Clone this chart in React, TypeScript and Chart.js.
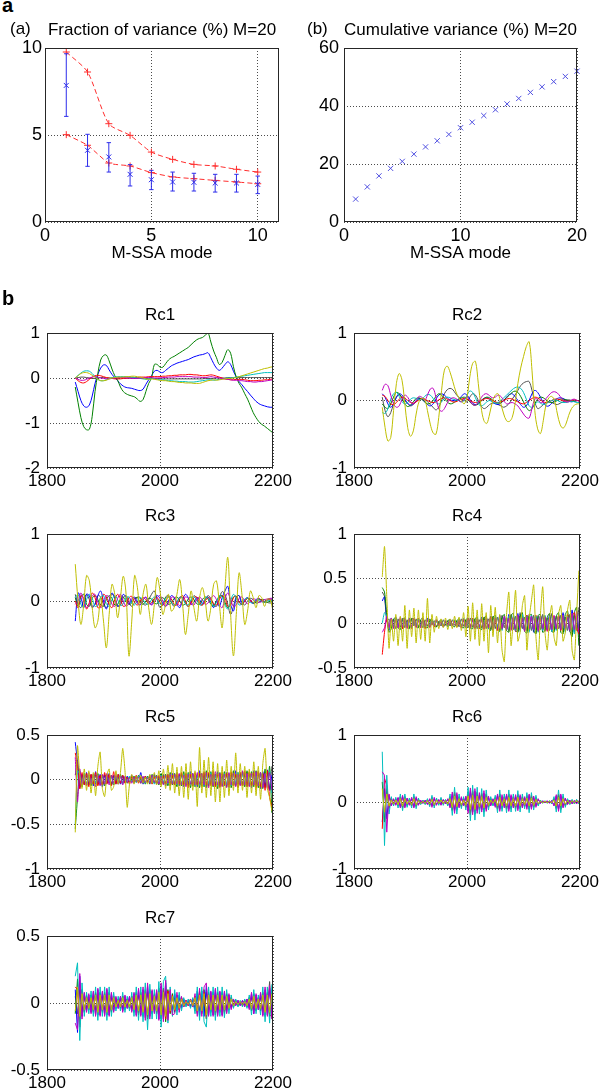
import React, { useEffect, useRef } from "react";
import { Chart, registerables } from "chart.js";

Chart.register(...registerables);

const FONT = "Arial, 'Liberation Sans', Helvetica, sans-serif";

// ---------- Panel (a): fraction of variance ----------
const fracModes = [1, 2, 3, 4, 5, 6, 7, 8, 9, 10];
const fracUpper = [9.77, 8.62, 5.65, 4.98, 4.02, 3.6, 3.31, 3.22, 3.03, 2.87];
const fracLower = [5.02, 4.41, 3.39, 3.22, 2.84, 2.59, 2.49, 2.39, 2.3, 2.2];
const fracMean = [7.85, 4.12, 3.74, 2.74, 2.43, 2.3, 2.28, 2.24, 2.24, 2.16];
const fracLow = [6.07, 3.2, 2.87, 2.07, 1.86, 1.78, 1.78, 1.72, 1.72, 1.63];
const fracHigh = [9.67, 5.04, 4.56, 3.3, 2.97, 2.87, 2.8, 2.74, 2.74, 2.64];

// ---------- Panel (b): cumulative variance ----------
const cumModes = [1, 2, 3, 4, 5, 6, 7, 8, 9, 10, 11, 12, 13, 14, 15, 16, 17, 18, 19, 20];
const cumVar = [7.9, 12.1, 15.9, 18.5, 20.9, 23.4, 25.9, 28.0, 30.2, 32.5, 34.4, 36.7, 38.7, 40.7, 42.6, 44.7, 46.6, 48.4, 50.2, 52.0];

// ---------- Tick labels ----------
const aXTicks = [0, 5, 10];
const aYTicks = [0, 5, 10];
const bXTicks = [0, 10, 20];
const bYTicks = [0, 20, 40, 60];
const rcXTicks = [1800, 2000, 2200];
const rc1YTicks = [-2, -1, 0, 1];
const rc2YTicks = [-1, 0, 1];
const rc3YTicks = [-1, 0, 1];
const rc4YTicks = [-0.5, 0, 0.5, 1];
const rc5YTicks = [-1, -0.5, 0, 0.5];
const rc6YTicks = [-1, 0, 1];
const rc7YTicks = [-0.5, 0, 0.5];

// years (categories)
function yearRange(start: number, step: number, n: number) {
  const out: number[] = [];
  for (let i = 0; i < n; i++) out.push(start + step * i);
  return out;
}
const years5 = yearRange(1850, 5, 71);
const years4 = yearRange(1850, 4, 88);

// ---------- Rc1 ----------
const rc1Blue = [
  -0.09, -0.3, -0.5, -0.62, -0.65, -0.6, -0.4, -0.12, 0.08, 0.22,
  0.29, 0.28, 0.18, 0.08, 0.01, -0.06, -0.13, -0.18, -0.21, -0.22,
  -0.23, -0.25, -0.27, -0.28, -0.25, -0.14, -0.04, 0.05, 0.15, 0.17,
  0.13, 0.12, 0.17, 0.22, 0.27, 0.3, 0.33, 0.35, 0.37, 0.39,
  0.41, 0.44, 0.47, 0.49, 0.51, 0.52, 0.54, 0.56, 0.45, 0.32,
  0.22, 0.17, 0.22, 0.3, 0.36, 0.3, 0.15, 0.02, -0.08, -0.15,
  -0.23, -0.3, -0.38, -0.45, -0.52, -0.57, -0.6, -0.62, -0.64, -0.65,
  -0.65,
];
const rc1Green = [
  -0.2, -0.55, -0.88, -1.08, -1.15, -1.14, -0.85, -0.3, 0.1, 0.4,
  0.5, 0.51, 0.38, 0.2, 0.05, -0.05, -0.2, -0.3, -0.35, -0.38,
  -0.4, -0.42, -0.47, -0.52, -0.48, -0.3, -0.12, 0.0, 0.3, 0.3,
  0.24, 0.24, 0.32, 0.4, 0.45, 0.48, 0.52, 0.56, 0.6, 0.64,
  0.68, 0.74, 0.8, 0.85, 0.88, 0.9, 0.95, 1.0, 0.8, 0.6,
  0.45, 0.3, 0.35, 0.5, 0.63, 0.55, 0.25, 0.02, -0.12, -0.22,
  -0.35, -0.47, -0.62, -0.77, -0.88, -0.97, -1.03, -1.07, -1.12, -1.17,
  -1.22,
];
const rc1Red = [
  0.0, -0.06, -0.1, -0.11, -0.08, -0.03, 0.02, 0.05, 0.06, 0.05,
  0.03, 0.01, 0.0, -0.01, -0.02, -0.02, -0.02, -0.01, -0.01, 0.0,
  0.0, 0.01, 0.01, 0.02, 0.02, 0.02, 0.03, 0.03, 0.03, 0.03,
  0.03, 0.04, 0.04, 0.05, 0.05, 0.06, 0.06, 0.07, 0.07, 0.07,
  0.08, 0.08, 0.07, 0.07, 0.06, 0.05, 0.05, 0.06, 0.07, 0.06,
  0.04, 0.02, 0.0, -0.02, -0.03, -0.04, -0.04, -0.03, -0.03, -0.03,
  -0.04, -0.05, -0.06, -0.06, -0.06, -0.05, -0.05, -0.04, -0.04, -0.03,
  -0.02,
];
const rc1Cyan = [
  0.0, 0.06, 0.11, 0.15, 0.16, 0.15, 0.1, 0.03, -0.03, -0.06,
  -0.06, -0.04, -0.01, 0.01, 0.02, 0.03, 0.03, 0.03, 0.03, 0.02,
  0.02, 0.01, 0.0, -0.01, -0.02, -0.03, -0.02, -0.01, -0.02, -0.03,
  -0.04, -0.04, -0.05, -0.06, -0.06, -0.07, -0.07, -0.08, -0.08, -0.08,
  -0.09, -0.09, -0.09, -0.08, -0.07, -0.06, -0.05, -0.04, -0.04, -0.05,
  -0.04, -0.03, -0.02, -0.01, 0.0, 0.0, 0.01, 0.02, 0.03, 0.04,
  0.05, 0.06, 0.07, 0.08, 0.09, 0.1, 0.11, 0.12, 0.12, 0.12,
  0.12,
];
const rc1Magenta = [
  0.0, -0.03, -0.05, -0.05, -0.03, 0.0, 0.02, 0.03, 0.02, 0.0,
  -0.01, -0.02, -0.02, -0.01, 0.0, 0.01, 0.01, 0.01, 0.0, 0.0,
  -0.01, -0.01, -0.01, 0.0, 0.0, 0.01, 0.01, 0.01, 0.0, 0.0,
  0.0, 0.01, 0.01, 0.02, 0.02, 0.02, 0.03, 0.03, 0.03, 0.03,
  0.03, 0.03, 0.02, 0.02, 0.02, 0.01, 0.01, 0.02, 0.03, 0.02,
  0.01, 0.0, -0.01, -0.02, -0.03, -0.04, -0.05, -0.05, -0.06, -0.06,
  -0.07, -0.08, -0.08, -0.09, -0.09, -0.08, -0.08, -0.07, -0.06, -0.05,
  -0.04,
];
const rc1Yellow = [
  0.0, 0.05, 0.1, 0.12, 0.12, 0.1, 0.06, 0.02, -0.03, -0.06,
  -0.06, -0.05, -0.02, 0.0, 0.01, 0.02, 0.02, 0.02, 0.03, 0.03,
  0.04, 0.04, 0.03, 0.02, 0.0, -0.02, -0.03, -0.02, -0.03, -0.04,
  -0.05, -0.06, -0.06, -0.07, -0.08, -0.08, -0.09, -0.1, -0.1, -0.11,
  -0.11, -0.11, -0.12, -0.12, -0.12, -0.1, -0.08, -0.06, -0.05, -0.04,
  -0.05, -0.04, -0.03, -0.02, -0.01, -0.01, 0.0, 0.01, 0.03, 0.05,
  0.07, 0.09, 0.11, 0.13, 0.15, 0.17, 0.19, 0.21, 0.22, 0.24,
  0.25,
];
const rc1Black = [
  0.0, 0.01, 0.02, 0.02, 0.01, 0.0, -0.01, -0.01, 0.0, 0.01,
  0.01, 0.0, 0.0, -0.01, -0.01, -0.01, 0.0, 0.0, 0.0, 0.0,
  0.0, -0.01, -0.01, -0.01, -0.01, -0.01, -0.01, -0.01, -0.01, -0.01,
  -0.01, -0.02, -0.02, -0.02, -0.02, -0.02, -0.02, -0.02, -0.02, -0.02,
  -0.02, -0.02, -0.02, -0.02, -0.02, -0.02, -0.01, -0.01, -0.01, -0.01,
  0.0, 0.0, 0.0, 0.0, 0.01, 0.01, 0.01, 0.01, 0.01, 0.01,
  0.01, 0.01, 0.01, 0.01, 0.01, 0.01, 0.01, 0.01, 0.01, 0.01,
  0.01,
];

// ---------- Rc2 ----------
const rc2Blue = [
  0.1, 0.05, -0.05, -0.1, -0.05, 0.05, 0.1, 0.08, 0.02, -0.04,
  -0.07, -0.05, 0.0, 0.03, 0.02, -0.02, -0.06, -0.08, -0.05, 0.02,
  0.08, 0.1, 0.08, 0.04, 0.01, 0.0, 0.0, 0.02, 0.06, 0.1,
  0.08, 0.02, -0.04, -0.06, -0.04, 0.0, 0.03, 0.04, 0.02, -0.02,
  -0.05, -0.06, -0.04, 0.0, 0.05, 0.09, 0.1, 0.06, 0.0, -0.06,
  -0.1, -0.08, 0.0, 0.1, 0.15, 0.12, 0.05, -0.03, -0.08, -0.08,
  -0.04, 0.0, 0.03, 0.04, 0.03, 0.01, -0.01, -0.02, -0.01, 0.0,
  0.0,
];
const rc2Green = [
  -0.05, -0.1, -0.12, -0.05, 0.05, 0.12, 0.1, 0.03, -0.05, -0.09,
  -0.07, -0.02, 0.03, 0.04, 0.02, -0.02, -0.05, -0.04, 0.0, 0.06,
  0.1, 0.08, 0.03, -0.02, -0.05, -0.04, -0.01, 0.02, 0.04, 0.05,
  0.03, -0.02, -0.06, -0.07, -0.05, -0.01, 0.03, 0.05, 0.04, 0.01,
  -0.02, -0.04, -0.03, 0.0, 0.04, 0.08, 0.12, 0.14, 0.12, 0.06,
  -0.02, -0.1, -0.15, -0.12, -0.05, 0.02, 0.05, 0.04, 0.01, -0.02,
  -0.03, -0.02, 0.0, 0.02, 0.02, 0.01, 0.0, -0.01, -0.01, 0.0,
  0.0,
];
const rc2Red = [
  0.08, 0.06, 0.0, -0.05, -0.06, -0.03, 0.02, 0.05, 0.04, 0.0,
  -0.03, -0.04, -0.02, 0.01, 0.03, 0.02, 0.0, -0.02, -0.03, -0.02,
  0.01, 0.03, 0.04, 0.02, 0.0, -0.02, -0.02, 0.0, 0.02, 0.03,
  0.02, 0.0, -0.02, -0.03, -0.02, 0.0, 0.02, 0.03, 0.02, 0.0,
  -0.02, -0.03, -0.02, 0.0, 0.02, 0.03, 0.02, 0.0, -0.02, -0.04,
  -0.05, -0.03, 0.0, 0.03, 0.05, 0.04, 0.01, -0.02, -0.03, -0.02,
  0.0, 0.02, 0.02, 0.01, 0.0, -0.01, -0.01, 0.0, 0.01, 0.0,
  -0.01,
];
const rc2Cyan = [
  -0.18, -0.19, -0.12, 0.02, 0.1, 0.12, 0.06, -0.02, -0.05, -0.03,
  0.02, 0.04, 0.03, 0.01, 0.02, 0.06, 0.09, 0.08, 0.03, -0.03,
  -0.05, -0.02, 0.03, 0.05, 0.04, 0.02, 0.01, 0.0, -0.02, 0.0,
  0.08, 0.14, 0.12, 0.04, -0.05, -0.08, -0.06, -0.02, 0.0, -0.02,
  -0.04, -0.03, 0.0, 0.04, 0.08, 0.12, 0.16, 0.19, 0.2, 0.18,
  0.12, 0.02, -0.08, -0.1, -0.06, -0.02, -0.04, -0.06, -0.05, -0.02,
  0.0, 0.01, 0.0, -0.02, -0.03, -0.03, -0.02, -0.01, -0.02, -0.03,
  -0.03,
];
const rc2Magenta = [
  0.15, 0.24, 0.22, 0.08, -0.05, -0.1, -0.08, 0.02, 0.08, 0.05,
  -0.02, -0.05, 0.0, 0.06, 0.05, 0.0, 0.08, 0.17, 0.18, 0.05,
  -0.12, -0.16, -0.12, -0.04, 0.02, 0.04, 0.03, 0.0, -0.02, 0.02,
  0.05, 0.0, -0.06, -0.07, -0.03, 0.04, 0.09, 0.1, 0.07, 0.04,
  0.05, 0.08, 0.06, 0.0, -0.05, -0.04, -0.03, -0.05, -0.08, -0.14,
  -0.2, -0.25, -0.26, -0.12, 0.02, 0.02, -0.03, -0.02, 0.03, 0.08,
  0.12, 0.13, 0.11, 0.06, 0.01, -0.02, -0.02, 0.01, 0.02, 0.0,
  -0.02,
];
const rc2Yellow = [
  -0.1, -0.4, -0.6, -0.55, -0.15, 0.25, 0.4, 0.3, -0.05, -0.4,
  -0.53, -0.45, -0.2, -0.02, 0.03, 0.02, -0.15, -0.35, -0.48, -0.5,
  -0.25, 0.15, 0.45, 0.51, 0.42, 0.28, 0.14, 0.05, 0.0, -0.05,
  0.05, 0.35, 0.55, 0.58, 0.25, -0.1, -0.3, -0.34, -0.2, -0.02,
  0.08, 0.1, -0.05, -0.2, -0.3, -0.31, -0.25, -0.05, 0.25, 0.48,
  0.65, 0.8, 0.87, 0.45, -0.15, -0.42, -0.49, -0.3, -0.05, 0.04,
  0.06, 0.0, -0.2, -0.36, -0.41, -0.35, -0.22, -0.12, -0.07, -0.05,
  -0.05,
];
const rc2Black = [
  0.05, -0.15, -0.24, -0.18, -0.05, 0.05, 0.08, 0.05, 0.0, -0.05,
  -0.08, -0.06, -0.02, 0.02, 0.03, 0.02, -0.02, -0.06, -0.1, -0.14,
  -0.1, 0.0, 0.1, 0.16, 0.18, 0.16, 0.1, 0.05, 0.02, 0.0,
  -0.02, 0.05, 0.1, 0.08, 0.0, -0.08, -0.12, -0.1, -0.06, -0.04,
  -0.04, -0.06, -0.08, -0.1, -0.08, -0.04, 0.02, 0.08, 0.15, 0.22,
  0.26, 0.28, 0.28, 0.15, -0.02, -0.12, -0.1, -0.06, -0.03, -0.02,
  -0.03, -0.05, -0.06, -0.04, -0.02, 0.0, 0.01, 0.0, -0.01, 0.0,
  0.0,
];

// ---------- Rc3 ----------
const rc3Blue = [
  -0.3, 0.12, 0.05, -0.1, 0.1, 0.08, -0.08, -0.05, 0.08, 0.15,
  0.0, -0.12, 0.02, 0.12, 0.05, -0.08, -0.02, 0.1, 0.05, -0.05,
  0.02, 0.06, -0.03, -0.06, 0.02, 0.05, -0.02, -0.05, 0.03, 0.08,
  0.04, -0.04, -0.08, 0.0, 0.08, 0.05, -0.05, -0.1, 0.02, 0.1,
  0.05, -0.05, -0.02, 0.05, 0.02, -0.04, 0.03, 0.06, -0.02, -0.1,
  0.0, -0.08, 0.05, 0.15, 0.22, -0.05, -0.15, 0.05, 0.08, -0.06,
  0.02, 0.05, 0.0, -0.04, 0.02, 0.04, 0.0, -0.02, 0.02, 0.03,
  0.02,
];
const rc3Green = [
  0.05, -0.08, 0.06, 0.1, -0.05, -0.08, 0.04, 0.08, 0.02, -0.06,
  -0.08, 0.02, 0.08, 0.04, -0.06, -0.05, 0.03, 0.06, 0.0, -0.05,
  -0.03, 0.04, 0.05, -0.02, -0.05, 0.0, 0.04, 0.03, -0.03, -0.04,
  0.02, 0.05, 0.0, -0.05, -0.03, 0.04, 0.06, 0.0, -0.06, -0.04,
  0.03, 0.06, 0.02, -0.04, -0.05, 0.02, 0.06, 0.03, -0.05, -0.07,
  0.0, 0.07, 0.08, -0.02, -0.1, -0.05, 0.06, 0.07, -0.02, -0.05,
  0.0, 0.04, 0.02, -0.03, -0.02, 0.02, 0.02, -0.01, -0.02, 0.0,
  -0.02,
];
const rc3Red = [
  0.0, -0.1, 0.08, 0.05, -0.12, -0.02, 0.12, 0.05, -0.1, -0.08,
  0.1, 0.06, -0.05, -0.1, 0.02, 0.1, 0.03, -0.08, -0.06, 0.05,
  0.07, -0.02, -0.06, 0.0, 0.05, 0.02, -0.04, -0.03, 0.04, 0.05,
  -0.02, -0.06, 0.0, 0.06, 0.03, -0.05, -0.06, 0.03, 0.08, 0.0,
  -0.08, -0.04, 0.05, 0.06, -0.02, -0.06, 0.0, 0.05, 0.03, -0.04,
  -0.06, 0.02, 0.08, 0.04, -0.08, -0.06, 0.05, 0.07, -0.02, -0.05,
  0.0, 0.04, 0.01, -0.03, 0.0, 0.03, 0.01, -0.02, 0.01, 0.02,
  0.0,
];
const rc3Cyan = [
  0.05, 0.1, -0.05, -0.1, 0.02, 0.1, 0.04, -0.08, -0.06, 0.06,
  0.08, -0.04, -0.08, 0.02, 0.08, 0.02, -0.07, -0.04, 0.05, 0.06,
  -0.03, -0.06, 0.01, 0.05, 0.02, -0.04, -0.05, 0.02, 0.06, 0.02,
  -0.05, -0.04, 0.04, 0.06, -0.01, -0.06, -0.02, 0.05, 0.04, -0.04,
  -0.06, 0.02, 0.06, 0.01, -0.05, -0.04, 0.04, 0.05, -0.03, -0.08,
  -0.02, 0.08, 0.06, -0.06, -0.12, 0.0, 0.1, 0.04, -0.06, -0.04,
  0.03, 0.04, -0.02, -0.03, 0.01, 0.02, -0.01, -0.02, 0.0, 0.01,
  0.0,
];
const rc3Magenta = [
  -0.05, 0.0, 0.12, 0.0, -0.1, -0.05, 0.08, 0.1, -0.02, -0.1,
  -0.05, 0.08, 0.06, -0.05, -0.08, 0.04, 0.1, 0.0, -0.08, -0.03,
  0.05, 0.04, -0.03, -0.05, 0.02, 0.06, 0.0, -0.06, -0.02, 0.05,
  0.08, 0.0, -0.08, -0.03, 0.05, 0.06, -0.02, -0.07, 0.0, 0.06,
  0.04, -0.04, -0.06, 0.02, 0.06, 0.01, -0.05, -0.03, 0.04, 0.08,
  0.02, -0.06, -0.1, 0.04, 0.12, 0.02, -0.08, -0.06, 0.04, 0.06,
  0.0, -0.04, -0.01, 0.03, 0.02, -0.02, -0.01, 0.02, 0.03, 0.04,
  0.04,
];
const rc3Yellow = [
  0.55, 0.0, -0.35, -0.05, 0.38, 0.3, -0.1, -0.4, -0.3, 0.05,
  -0.3, -0.7, -0.2, 0.25, 0.1, -0.25, 0.05, 0.37, 0.1, -0.82,
  -0.3, 0.38, 0.2, -0.2, 0.1, 0.25, -0.1, -0.35, -0.05, 0.35,
  0.15, -0.2, -0.05, 0.1, -0.15, -0.1, 0.1, 0.32, -0.05, -0.5,
  -0.2, 0.15, -0.1, -0.3, 0.05, 0.2, 0.0, -0.3, -0.1, 0.25,
  0.3, -0.05, -0.4, 0.2, 0.65, -0.2, -0.82, -0.2, 0.42, 0.1,
  -0.35, -0.15, 0.15, 0.05, -0.1, 0.08, 0.05, -0.08, 0.03, 0.02,
  -0.15,
];
const rc3Black = [
  0.1, -0.05, -0.1, 0.02, 0.1, 0.02, -0.1, -0.05, 0.08, 0.06,
  -0.05, -0.1, 0.0, 0.1, 0.04, -0.08, -0.06, 0.05, 0.08, -0.02,
  -0.08, -0.02, 0.06, 0.05, -0.04, -0.06, 0.02, 0.1, 0.15, 0.02,
  -0.1, -0.05, 0.06, 0.08, -0.02, -0.08, -0.02, 0.06, 0.05, -0.04,
  -0.08, 0.0, 0.08, 0.04, -0.05, -0.06, 0.02, 0.08, 0.04, -0.06,
  -0.08, 0.04, 0.14, 0.1, -0.05, -0.2, -0.08, 0.06, 0.08, -0.02,
  -0.06, 0.0, 0.04, 0.02, -0.03, -0.02, 0.02, 0.02, -0.02, -0.03,
  -0.02,
];

// ---------- Rc4 ----------
const rc4Blue = [
  0.25, 0.3, 0.05, -0.08, 0.06, -0.05, 0.07, -0.04, 0.05, -0.06, 0.04,
  -0.03, 0.06, -0.05, 0.03, -0.04, 0.05, -0.03, 0.04, -0.05, 0.06, -0.04,
  0.03, -0.03, 0.04, -0.02, 0.03, -0.04, 0.02, -0.03, 0.04, -0.02, 0.03,
  -0.04, 0.05, -0.03, 0.04, -0.05, 0.06, -0.04, 0.05, -0.06, 0.04, -0.05,
  0.07, -0.06, 0.05, -0.04, 0.08, -0.07, 0.06, -0.05, 0.09, -0.06, 0.07,
  -0.08, 0.1, -0.05, 0.06, -0.09, 0.11, -0.07, 0.05, -0.08, 0.09, -0.06,
  0.08, -0.1, 0.07, -0.05, 0.09, -0.08, 0.06, -0.07, 0.1, -0.09, 0.05,
  -0.06, 0.08, -0.07, 0.12, -0.05, 0.06, -0.09, 0.15, -0.1, 0.08, -0.12,
];
const rc4Green = [
  0.4, 0.35, 0.1, -0.1, -0.06, 0.05, 0.06, -0.05, -0.07, 0.04, 0.06,
  -0.04, -0.06, 0.05, 0.05, -0.03, -0.05, 0.04, 0.06, -0.04, -0.05, 0.03,
  0.04, -0.03, -0.04, 0.02, 0.03, -0.03, -0.02, 0.03, 0.04, -0.02, -0.04,
  0.03, 0.05, -0.04, -0.05, 0.04, 0.06, -0.05, -0.06, 0.05, 0.07, -0.05,
  -0.07, 0.06, 0.08, -0.06, -0.08, 0.07, 0.09, -0.07, -0.09, 0.06, 0.1,
  -0.08, -0.1, 0.09, 0.11, -0.08, -0.1, 0.07, 0.12, -0.09, -0.11, 0.08,
  0.1, -0.08, -0.12, 0.09, 0.1, -0.1, -0.08, 0.07, 0.11, -0.09, -0.1,
  0.08, 0.12, -0.1, -0.12, 0.1, 0.14, -0.08, -0.15, 0.12, 0.18, -0.25,
];
const rc4Red = [
  -0.35, -0.1, 0.05, -0.06, 0.05, -0.04, 0.06, -0.05, 0.04, -0.06, 0.05,
  -0.05, 0.04, -0.06, 0.05, -0.04, 0.06, -0.05, 0.04, -0.06, 0.05, -0.04,
  0.03, -0.04, 0.03, -0.02, 0.04, -0.03, 0.02, -0.04, 0.03, -0.02, 0.03,
  -0.04, 0.03, -0.05, 0.04, -0.03, 0.05, -0.04, 0.06, -0.05, 0.04, -0.06,
  0.05, -0.07, 0.06, -0.05, 0.07, -0.06, 0.05, -0.08, 0.06, -0.07, 0.05,
  -0.06, 0.08, -0.07, 0.06, -0.09, 0.07, -0.06, 0.08, -0.07, 0.09, -0.08,
  0.07, -0.06, 0.09, -0.08, 0.06, -0.07, 0.08, -0.09, 0.07, -0.06, 0.08,
  -0.07, 0.09, -0.08, 0.06, -0.09, 0.1, -0.07, 0.08, 0.12, -0.05, -0.12,
];
const rc4Cyan = [
  0.0, 0.12, 0.08, -0.06, 0.04, -0.04, 0.06, -0.05, 0.04, -0.03, 0.05,
  -0.04, 0.03, -0.05, 0.04, -0.03, 0.05, -0.04, 0.03, -0.04, 0.05, -0.03,
  0.04, -0.03, 0.02, -0.03, 0.04, -0.02, 0.03, -0.04, 0.02, -0.03, 0.04,
  -0.03, 0.05, -0.04, 0.06, -0.05, 0.04, -0.06, 0.05, -0.04, 0.06, -0.05,
  0.06, -0.05, 0.07, -0.06, 0.05, -0.07, 0.08, -0.05, 0.07, -0.08, 0.06,
  -0.07, 0.08, -0.06, 0.09, -0.08, 0.07, -0.09, 0.1, -0.07, 0.08, -0.1,
  0.09, -0.07, 0.08, -0.1, 0.07, -0.08, 0.09, -0.06, 0.08, -0.09, 0.07,
  -0.08, 0.07, -0.06, 0.09, -0.1, 0.08, -0.07, 0.1, -0.12, 0.09, -0.05,
];
const rc4Magenta = [
  -0.1, -0.05, 0.08, -0.05, 0.06, -0.06, 0.04, -0.05, 0.07, -0.04, 0.05,
  -0.06, 0.05, -0.04, 0.06, -0.05, 0.03, -0.05, 0.06, -0.03, 0.04, -0.05,
  0.02, -0.03, 0.04, -0.03, 0.02, -0.04, 0.03, -0.02, 0.04, -0.03, 0.02,
  -0.03, 0.04, -0.05, 0.05, -0.04, 0.06, -0.05, 0.04, -0.06, 0.05, -0.04,
  0.05, -0.06, 0.07, -0.05, 0.06, -0.08, 0.06, -0.07, 0.05, -0.06, 0.08,
  -0.07, 0.06, -0.08, 0.07, -0.06, 0.09, -0.07, 0.06, -0.09, 0.07, -0.06,
  0.08, -0.07, 0.06, -0.09, 0.08, -0.06, 0.07, -0.08, 0.06, -0.07, 0.09,
  -0.06, 0.08, -0.07, 0.09, -0.06, 0.07, -0.08, 0.11, -0.07, 0.14, -0.1,
];
const rc4Yellow = [
  0.52, 0.86, 0.3, -0.28, 0.05, -0.2, 0.1, -0.25, 0.08, -0.2, 0.2,
  -0.28, 0.15, -0.15, 0.17, -0.22, 0.15, -0.18, 0.12, -0.2, 0.28, -0.22,
  0.1, -0.1, 0.08, -0.06, 0.05, -0.05, 0.06, -0.07, 0.05, -0.06, 0.08,
  -0.05, 0.07, -0.08, 0.12, -0.15, 0.19, -0.2, 0.23, -0.18, 0.15, -0.25,
  0.22, -0.2, 0.12, -0.33, 0.2, -0.15, 0.18, -0.22, 0.1, -0.3, -0.43,
  0.1, 0.35, -0.25, 0.05, 0.37, -0.2, -0.1, 0.2, 0.31, -0.3, 0.05,
  0.25, 0.43, -0.15, -0.41, 0.1, 0.41, -0.1, -0.3, 0.05, 0.2, -0.15,
  -0.25, 0.1, 0.2, -0.2, -0.1, 0.15, 0.26, -0.3, -0.41, 0.1, 0.59,
];
const rc4Black = [
  0.35, 0.3, 0.02, 0.05, -0.05, 0.04, -0.06, 0.05, -0.04, 0.06, -0.05,
  0.04, -0.05, 0.06, -0.03, 0.05, -0.04, 0.03, -0.05, 0.04, -0.03, 0.05,
  -0.02, 0.03, -0.04, 0.02, -0.03, 0.04, -0.02, 0.03, -0.03, 0.04, -0.02,
  0.03, -0.04, 0.05, -0.03, 0.04, -0.05, 0.06, -0.04, 0.05, -0.06, 0.04,
  -0.05, 0.07, -0.06, 0.05, -0.07, 0.08, -0.06, 0.07, -0.08, 0.09, -0.05,
  0.06, -0.09, 0.1, -0.07, 0.08, -0.1, 0.12, -0.06, 0.07, -0.09, 0.1,
  -0.08, 0.09, -0.11, 0.08, -0.07, 0.1, -0.09, 0.06, -0.08, 0.11, -0.07,
  0.08, -0.06, 0.09, -0.1, 0.07, -0.08, 0.1, -0.12, 0.09, -0.08, 0.18,
];

// ---------- Rc5 ----------
const rc5Blue = [
  0.42, 0.2, -0.08, 0.06, -0.05, 0.08, -0.06, 0.05, -0.07, 0.09, -0.05,
  0.06, -0.08, 0.05, -0.04, 0.07, -0.06, 0.05, -0.04, 0.06, -0.05, 0.04,
  -0.03, 0.04, -0.03, 0.05, -0.04, 0.03, -0.02, 0.08, -0.05, 0.04, -0.03,
  0.05, -0.04, 0.06, -0.05, 0.04, -0.06, 0.05, -0.07, 0.06, -0.05, 0.07,
  -0.06, 0.08, -0.07, 0.06, -0.08, 0.07, -0.05, 0.09, -0.07, 0.06, -0.08,
  0.1, -0.06, 0.08, -0.09, 0.07, -0.06, 0.08, -0.07, 0.09, -0.08, 0.06,
  -0.07, 0.08, -0.09, 0.07, -0.06, 0.1, -0.08, 0.07, -0.06, 0.09, -0.07,
  0.08, -0.09, 0.1, -0.07, 0.08, -0.1, 0.09, -0.08, 0.11, -0.12, 0.05,
];
const rc5Green = [
  -0.55, -0.2, 0.1, -0.08, 0.07, -0.06, 0.05, -0.07, 0.06, -0.05, 0.07,
  -0.06, 0.05, -0.07, 0.06, -0.04, 0.05, -0.06, 0.04, -0.05, 0.06, -0.04,
  0.03, -0.04, 0.03, -0.02, 0.04, -0.03, 0.05, -0.04, 0.03, -0.05, 0.04,
  -0.05, 0.06, -0.04, 0.05, -0.06, 0.07, -0.05, 0.06, -0.07, 0.08, -0.06,
  0.07, -0.08, 0.06, -0.07, 0.09, -0.06, 0.08, -0.09, 0.07, -0.08, 0.06,
  -0.09, 0.07, -0.08, 0.1, -0.07, 0.09, -0.08, 0.06, -0.1, 0.08, -0.07,
  0.09, -0.08, 0.07, -0.09, 0.1, -0.07, 0.08, -0.06, 0.09, -0.08, 0.1,
  -0.07, 0.09, -0.08, 0.1, -0.09, 0.08, -0.1, 0.12, -0.08, 0.15, -0.37,
];
const rc5Red = [
  0.3, 0.15, -0.1, 0.08, -0.06, 0.07, -0.08, 0.06, -0.05, 0.08, -0.07,
  0.05, -0.06, 0.08, -0.05, 0.06, -0.07, 0.09, -0.05, 0.06, -0.04, 0.05,
  -0.04, 0.03, -0.05, 0.04, -0.03, 0.05, -0.04, 0.03, -0.02, 0.04, -0.03,
  0.04, -0.05, 0.03, -0.04, 0.05, -0.06, 0.04, -0.05, 0.06, -0.07, 0.05,
  -0.06, 0.07, -0.05, 0.08, -0.06, 0.07, -0.09, 0.06, -0.07, 0.08, -0.06,
  0.07, -0.08, 0.09, -0.06, 0.08, -0.07, 0.1, -0.08, 0.06, -0.09, 0.08,
  -0.06, 0.07, -0.08, 0.09, -0.07, 0.06, -0.09, 0.08, -0.07, 0.1, -0.08,
  0.09, -0.07, 0.08, -0.1, 0.09, -0.08, 0.07, -0.12, 0.1, -0.2, -0.3,
];
const rc5Cyan = [
  -0.5, 0.1, 0.06, -0.05, 0.07, -0.06, 0.04, -0.05, 0.06, -0.04, 0.05,
  -0.05, 0.04, -0.03, 0.05, -0.04, 0.03, -0.05, 0.04, -0.03, 0.04, -0.05,
  0.03, -0.02, 0.04, -0.03, 0.02, -0.03, 0.04, -0.02, 0.03, -0.04, 0.03,
  -0.03, 0.04, -0.05, 0.03, -0.04, 0.05, -0.03, 0.04, -0.05, 0.06, -0.04,
  0.05, -0.06, 0.04, -0.05, 0.06, -0.04, 0.07, -0.05, 0.06, -0.07, 0.05,
  -0.06, 0.05, -0.07, 0.06, -0.05, 0.08, -0.06, 0.05, -0.07, 0.06, -0.05,
  0.07, -0.06, 0.05, -0.07, 0.06, -0.05, 0.08, -0.06, 0.07, -0.05, 0.06,
  -0.07, 0.06, -0.05, 0.08, -0.06, 0.07, -0.08, 0.06, -0.09, 0.1, -0.15,
];
const rc5Magenta = [
  0.25, -0.25, 0.12, -0.06, 0.05, -0.07, 0.08, -0.05, 0.06, -0.08, 0.05,
  -0.07, 0.06, -0.05, 0.07, -0.06, 0.05, -0.04, 0.06, -0.05, 0.04, -0.06,
  0.04, -0.03, 0.02, -0.04, 0.03, -0.02, 0.03, -0.04, 0.04, -0.03, 0.02,
  -0.04, 0.05, -0.03, 0.04, -0.05, 0.04, -0.06, 0.05, -0.04, 0.06, -0.05,
  0.06, -0.05, 0.07, -0.06, 0.05, -0.08, 0.06, -0.05, 0.07, -0.06, 0.08,
  -0.05, 0.07, -0.06, 0.08, -0.09, 0.06, -0.07, 0.09, -0.06, 0.07, -0.08,
  0.06, -0.09, 0.08, -0.06, 0.07, -0.08, 0.06, -0.07, 0.1, -0.06, 0.07,
  -0.08, 0.07, -0.06, 0.09, -0.07, 0.08, -0.09, 0.07, -0.1, 0.08, -0.12,
];
const rc5Yellow = [
  -0.59, 0.38, 0.05, -0.1, 0.12, -0.12, 0.1, -0.15, 0.08, -0.18, 0.15,
  0.31, -0.1, -0.19, 0.05, 0.12, -0.12, -0.08, 0.1, -0.05, 0.08, 0.35,
  0.1, -0.31, -0.05, 0.06, -0.05, 0.04, -0.03, 0.05, -0.04, 0.03, -0.05,
  0.06, -0.04, 0.08, -0.06, 0.1, -0.08, 0.12, -0.1, 0.16, -0.12, 0.18,
  -0.15, 0.14, -0.18, 0.15, -0.2, 0.18, -0.22, 0.2, -0.12, 0.1, -0.3,
  0.36, -0.15, 0.22, -0.2, 0.25, -0.18, 0.2, -0.25, 0.18, -0.25, 0.15,
  -0.2, 0.22, -0.18, 0.15, -0.12, 0.3, -0.15, 0.18, -0.12, 0.15, -0.2,
  0.12, -0.15, 0.2, -0.18, 0.15, -0.22, 0.18, 0.35, -0.1, -0.2, -0.35,
];
const rc5Black = [
  0.05, 0.22, -0.1, 0.05, -0.06, 0.04, -0.05, 0.06, -0.04, 0.05, -0.06,
  0.04, -0.05, 0.06, -0.04, 0.05, -0.06, 0.04, -0.05, 0.03, -0.04, 0.05,
  -0.03, 0.02, -0.03, 0.03, -0.02, 0.04, -0.03, 0.02, -0.04, 0.03, -0.02,
  0.03, -0.04, 0.05, -0.04, 0.03, -0.05, 0.06, -0.04, 0.05, -0.06, 0.04,
  -0.05, 0.06, -0.04, 0.07, -0.05, 0.06, -0.07, 0.05, -0.06, 0.07, -0.05,
  0.06, -0.07, 0.05, -0.08, 0.06, -0.05, 0.07, -0.06, 0.08, -0.07, 0.06,
  -0.05, 0.07, -0.06, 0.08, -0.07, 0.05, -0.06, 0.08, -0.07, 0.06, -0.08,
  0.07, -0.06, 0.08, -0.07, 0.09, -0.08, 0.06, -0.09, 0.08, -0.1, 0.15,
];

// ---------- Rc6 ----------
const rc6Blue = [
  -0.3, 0.2, -0.25, 0.1, -0.05, 0.04, -0.04, 0.06, -0.07, 0.08, -0.07,
  0.05, -0.04, 0.05, -0.07, 0.06, -0.04, 0.02, -0.02, 0.02, -0.03, 0.04,
  -0.06, 0.05, -0.04, 0.03, -0.04, 0.03, -0.02, 0.04, -0.07, 0.12, -0.13,
  0.11, -0.07, 0.06, -0.05, 0.07, -0.13, 0.17, -0.15, 0.16, -0.13, 0.11,
  -0.12, 0.13, -0.11, 0.07, -0.05, 0.04, -0.06, 0.1, -0.11, 0.08, -0.07,
  0.1, -0.11, 0.09, -0.07, 0.08, -0.1, 0.09, -0.07, 0.06, -0.08, 0.1,
  -0.08, 0.07, -0.06, 0.04, -0.02, 0.01, -0.01, 0.01, -0.01, 0.02, -0.05,
  0.09, -0.11, 0.1, -0.07, 0.05, -0.03, 0.02, -0.02, 0.02, -0.02, 0.02,
];
const rc6Green = [
  0.3, -0.3, 0.2, -0.09, 0.05, -0.04, 0.04, -0.05, 0.07, -0.08, 0.07,
  -0.05, 0.03, -0.05, 0.07, -0.06, 0.04, -0.02, 0.02, -0.02, 0.03, -0.04,
  0.06, -0.05, 0.04, -0.03, 0.04, -0.03, 0.02, -0.04, 0.07, -0.12, 0.13,
  -0.11, 0.07, -0.06, 0.05, -0.07, 0.13, -0.17, 0.15, -0.16, 0.13, -0.11,
  0.12, -0.13, 0.11, -0.07, 0.05, -0.04, 0.06, -0.1, 0.11, -0.08, 0.07,
  -0.1, 0.11, -0.09, 0.07, -0.08, 0.1, -0.09, 0.07, -0.06, 0.08, -0.1,
  0.08, -0.07, 0.06, -0.04, 0.02, -0.01, 0.01, -0.01, 0.01, -0.02, 0.05,
  -0.09, 0.11, -0.1, 0.07, -0.05, 0.03, -0.02, 0.02, -0.02, 0.02, -0.02,
];
const rc6Red = [
  -0.4, 0.35, 0.25, -0.1, 0.05, -0.04, 0.05, -0.06, 0.08, -0.09, 0.08,
  -0.05, 0.04, -0.06, 0.08, -0.07, 0.04, -0.03, 0.02, -0.03, 0.03, -0.05,
  0.07, -0.06, 0.04, -0.03, 0.05, -0.03, 0.03, -0.04, 0.08, -0.13, 0.15,
  -0.12, 0.08, -0.07, 0.05, -0.08, 0.15, -0.19, 0.17, -0.18, 0.15, -0.12,
  0.13, -0.15, 0.12, -0.08, 0.05, -0.04, 0.07, -0.11, 0.12, -0.1, 0.08,
  -0.11, 0.12, -0.1, 0.08, -0.1, 0.12, -0.1, 0.08, -0.07, 0.1, -0.11,
  0.1, -0.08, 0.07, -0.04, 0.02, -0.01, 0.01, -0.01, 0.01, -0.02, 0.05,
  -0.1, 0.12, -0.11, 0.08, -0.05, 0.03, -0.03, 0.03, -0.02, 0.03, -0.02,
];
const rc6Cyan = [
  0.75, -0.65, 0.4, -0.18, 0.08, -0.06, 0.07, -0.09, 0.12, -0.13, 0.12,
  -0.08, 0.06, -0.09, 0.12, -0.1, 0.06, -0.04, 0.03, -0.04, 0.05, -0.07,
  0.1, -0.09, 0.06, -0.05, 0.07, -0.05, 0.04, -0.06, 0.12, -0.2, 0.22,
  -0.18, 0.12, -0.1, 0.08, -0.12, 0.22, -0.28, 0.25, -0.27, 0.22, -0.18,
  0.2, -0.22, 0.18, -0.12, 0.08, -0.06, 0.1, -0.16, 0.18, -0.14, 0.12,
  -0.16, 0.18, -0.15, 0.12, -0.14, 0.17, -0.15, 0.12, -0.1, 0.14, -0.16,
  0.14, -0.12, 0.1, -0.06, 0.03, -0.02, 0.02, -0.02, 0.02, -0.03, 0.08,
  -0.15, 0.18, -0.16, 0.12, -0.08, 0.05, -0.04, 0.04, -0.03, 0.04, -0.03,
];
const rc6Magenta = [
  0.45, 0.4, -0.45, 0.12, -0.06, 0.05, -0.05, 0.07, -0.09, 0.1, -0.09,
  0.06, -0.05, 0.07, -0.09, 0.08, -0.05, 0.03, -0.02, 0.03, -0.04, 0.05,
  -0.08, 0.07, -0.05, 0.04, -0.05, 0.04, -0.03, 0.05, -0.09, 0.15, -0.17,
  0.14, -0.09, 0.08, -0.06, 0.09, -0.17, 0.21, -0.19, 0.2, -0.17, 0.14,
  -0.15, 0.17, -0.14, 0.09, -0.06, 0.05, -0.08, 0.12, -0.14, 0.11, -0.09,
  0.12, -0.14, 0.11, -0.09, 0.11, -0.13, 0.11, -0.09, 0.08, -0.11, 0.12,
  -0.11, 0.09, -0.08, 0.05, -0.02, 0.02, -0.01, 0.02, -0.02, 0.02, -0.06,
  0.11, -0.14, 0.12, -0.09, 0.06, -0.04, 0.03, -0.03, 0.02, -0.03, 0.02,
];
const rc6Yellow = [
  0.2, -0.15, 0.12, -0.06, 0.03, -0.03, 0.03, -0.04, 0.05, -0.06, 0.05,
  -0.03, 0.02, -0.04, 0.05, -0.04, 0.02, -0.02, 0.01, -0.02, 0.02, -0.03,
  0.04, -0.04, 0.03, -0.02, 0.03, -0.02, 0.02, -0.03, 0.05, -0.08, 0.09,
  -0.07, 0.05, -0.04, 0.03, -0.05, 0.09, -0.11, 0.1, -0.11, 0.09, -0.07,
  0.08, -0.09, 0.07, -0.05, 0.03, -0.02, 0.04, -0.06, 0.07, -0.06, 0.05,
  -0.06, 0.07, -0.06, 0.05, -0.06, 0.07, -0.06, 0.05, -0.04, 0.06, -0.06,
  0.06, -0.05, 0.04, -0.02, 0.01, -0.01, 0.01, -0.01, 0.01, -0.01, 0.03,
  -0.06, 0.07, -0.06, 0.05, -0.03, 0.02, -0.02, 0.02, -0.01, 0.02, -0.01,
];

// ---------- Rc7 ----------
const rc7Blue = [
  0.1, -0.22, 0.2, -0.1, 0.07, -0.06, 0.06, -0.07, 0.08, -0.09, 0.1,
  -0.09, 0.08, -0.09, 0.1, -0.09, 0.07, -0.06, 0.04, -0.04, 0.05, -0.06,
  0.05, -0.04, 0.05, -0.06, 0.07, -0.09, 0.1, -0.09, 0.1, -0.11, 0.13,
  -0.1, 0.09, -0.07, 0.09, -0.12, 0.13, -0.12, 0.15, -0.11, 0.09, -0.07,
  0.07, -0.06, 0.06, -0.04, 0.03, -0.02, 0.02, -0.03, 0.03, -0.06, 0.09,
  -0.1, 0.09, -0.1, 0.13, -0.09, 0.08, -0.09, 0.1, -0.09, 0.08, -0.09,
  0.08, -0.07, 0.06, -0.04, 0.03, -0.02, 0.02, -0.02, 0.02, -0.02, 0.03,
  -0.04, 0.07, -0.08, 0.06, -0.05, 0.07, -0.09, 0.1, -0.09, 0.11, -0.1,
];
const rc7Green = [
  -0.08, 0.18, -0.16, 0.1, -0.07, 0.06, -0.05, 0.06, -0.07, 0.08, -0.09,
  0.08, -0.07, 0.08, -0.09, 0.08, -0.07, 0.05, -0.04, 0.03, -0.04, 0.05,
  -0.05, 0.03, -0.04, 0.05, -0.07, 0.08, -0.09, 0.08, -0.1, 0.1, -0.12,
  0.1, -0.08, 0.07, -0.08, 0.11, -0.12, 0.11, -0.14, 0.1, -0.08, 0.07,
  -0.07, 0.06, -0.05, 0.04, -0.03, 0.02, -0.02, 0.03, -0.03, 0.05, -0.08,
  0.09, -0.08, 0.1, -0.12, 0.08, -0.07, 0.08, -0.09, 0.08, -0.07, 0.08,
  -0.08, 0.07, -0.05, 0.04, -0.03, 0.02, -0.02, 0.01, -0.02, 0.02, -0.03,
  0.04, -0.06, 0.07, -0.06, 0.04, -0.06, 0.08, -0.1, 0.08, -0.1, 0.09,
];
const rc7Red = [
  0.12, 0.1, -0.18, 0.09, -0.06, 0.05, -0.05, 0.06, -0.06, 0.07, -0.08,
  0.07, -0.06, 0.07, -0.08, 0.07, -0.06, 0.05, -0.04, 0.03, -0.03, 0.05,
  -0.04, 0.03, -0.04, 0.05, -0.06, 0.07, -0.08, 0.07, -0.08, 0.09, -0.11,
  0.08, -0.07, 0.06, -0.07, 0.09, -0.11, 0.1, -0.12, 0.09, -0.07, 0.06,
  -0.06, 0.05, -0.05, 0.04, -0.02, 0.02, -0.02, 0.02, -0.02, 0.05, -0.07,
  0.08, -0.07, 0.08, -0.11, 0.07, -0.06, 0.07, -0.08, 0.07, -0.06, 0.07,
  -0.07, 0.06, -0.05, 0.04, -0.02, 0.02, -0.02, 0.01, -0.02, 0.02, -0.02,
  0.04, -0.05, 0.06, -0.05, 0.04, -0.05, 0.07, -0.09, 0.07, -0.09, -0.1,
];
const rc7Cyan = [
  0.2, 0.3, -0.28, 0.15, -0.1, 0.08, -0.08, 0.09, -0.1, 0.12, -0.13,
  0.12, -0.1, 0.12, -0.13, 0.12, -0.1, 0.08, -0.06, 0.05, -0.06, 0.08,
  -0.07, 0.05, -0.06, 0.08, -0.1, 0.12, -0.13, 0.12, -0.14, 0.15, -0.2,
  0.14, -0.12, 0.1, -0.12, 0.16, -0.18, 0.16, 0.2, -0.15, 0.12, -0.1,
  0.1, -0.09, 0.08, -0.06, 0.04, -0.03, 0.03, -0.04, 0.04, -0.08, 0.12,
  -0.13, 0.12, -0.14, -0.18, 0.12, -0.1, 0.12, -0.13, 0.12, -0.1, 0.12,
  -0.11, 0.1, -0.08, 0.06, -0.04, 0.03, -0.03, 0.02, -0.03, 0.03, -0.04,
  0.06, -0.09, 0.1, -0.08, 0.06, -0.09, 0.12, -0.14, 0.12, -0.15, 0.14,
];
const rc7Magenta = [
  -0.15, -0.2, 0.22, -0.12, 0.08, -0.07, 0.07, -0.08, 0.09, -0.1, 0.11,
  -0.1, 0.09, -0.1, 0.11, -0.1, 0.08, -0.07, 0.05, -0.04, 0.05, -0.07,
  0.06, -0.04, 0.05, -0.07, 0.08, -0.1, 0.11, -0.1, 0.12, -0.13, 0.15,
  -0.12, 0.1, -0.08, 0.1, -0.13, 0.15, -0.14, 0.17, -0.13, 0.1, -0.09,
  -0.08, 0.08, -0.07, 0.05, -0.03, 0.02, -0.02, 0.03, -0.03, 0.07, -0.1,
  0.11, -0.1, 0.12, 0.15, -0.1, 0.09, -0.1, 0.11, -0.1, 0.09, -0.1,
  0.09, -0.08, 0.07, -0.05, 0.03, -0.02, 0.02, -0.02, 0.02, -0.03, 0.03,
  -0.05, 0.08, -0.08, 0.07, -0.05, 0.08, -0.1, 0.12, -0.1, 0.13, -0.12,
];
const rc7Yellow = [
  -0.06, 0.12, -0.1, 0.07, -0.05, 0.04, -0.04, 0.04, -0.05, 0.06, -0.07,
  0.06, -0.05, 0.06, -0.07, 0.06, -0.05, 0.04, -0.03, 0.02, -0.03, 0.04,
  -0.03, 0.02, -0.03, 0.04, -0.05, 0.06, -0.06, 0.06, -0.07, 0.07, -0.09,
  0.07, -0.06, 0.05, -0.06, 0.08, -0.09, 0.08, -0.1, 0.07, -0.06, 0.05,
  -0.05, 0.04, -0.04, 0.03, -0.02, 0.01, -0.01, 0.02, -0.02, 0.04, -0.06,
  0.06, -0.06, 0.07, -0.09, 0.06, -0.05, 0.06, -0.06, 0.06, -0.05, 0.06,
  -0.05, 0.05, -0.04, 0.03, -0.02, 0.01, -0.01, 0.01, -0.01, 0.01, -0.02,
  0.03, -0.04, 0.05, -0.04, 0.03, -0.04, 0.06, -0.07, 0.06, -0.07, 0.07,
];
const rc7Black = [
  0.05, -0.08, 0.1, -0.06, 0.04, -0.04, 0.03, -0.04, 0.05, -0.05, 0.06,
  -0.05, 0.05, -0.05, 0.06, -0.05, 0.04, -0.03, 0.03, -0.02, 0.03, -0.04,
  0.03, -0.02, 0.03, -0.04, 0.04, -0.05, 0.06, -0.05, 0.06, -0.07, 0.08,
  -0.06, 0.05, -0.05, 0.05, -0.07, 0.08, -0.07, 0.09, -0.07, 0.05, -0.05,
  0.04, -0.04, 0.04, -0.03, 0.02, -0.01, 0.01, -0.02, 0.02, -0.04, 0.05,
  -0.06, 0.05, -0.06, 0.08, -0.05, 0.05, -0.05, 0.06, -0.05, 0.05, -0.05,
  0.05, -0.04, 0.04, -0.03, 0.02, -0.01, 0.01, -0.01, 0.01, -0.01, 0.02,
  -0.03, 0.04, -0.05, 0.04, -0.03, 0.04, -0.05, 0.07, -0.05, 0.16, -0.12,
];

// ---------- styling ----------
const COL = {
  b: "#0000ff",
  g: "#008000",
  r: "#ff0000",
  c: "#00bfbf",
  m: "#bf00bf",
  y: "#bfbf00",
  k: "#505050",
};
const Y_W = 45;
const PAD_R = 30;
const TITLE_H = 28;

type Series = { color: string; values: number[] };

function rcDatasets(years: number[], series: Series[], tension: number) {
  // first series of the list ends up drawn first (underneath)
  return series
    .slice()
    .reverse()
    .map((s) => ({
      data: years.map((x, i) => ({ x, y: s.values[i] })),
      borderColor: s.color,
      borderWidth: 1,
      pointRadius: 0,
      tension,
      fill: false,
    }));
}

function rcSeries(b: number[] | null, g: number[] | null, r: number[] | null, c: number[] | null, m: number[] | null, y: number[] | null, k: number[] | null): Series[] {
  const out: Series[] = [];
  if (k) out.push({ color: COL.k, values: k });
  if (b) out.push({ color: COL.b, values: b });
  if (g) out.push({ color: COL.g, values: g });
  if (r) out.push({ color: COL.r, values: r });
  if (c) out.push({ color: COL.c, values: c });
  if (m) out.push({ color: COL.m, values: m });
  if (y) out.push({ color: COL.y, values: y });
  return out;
}

const RED_A = "rgb(255,45,45)";
const BLUE_A = "rgb(45,45,235)";

const errorBarData: any[] = [];
fracModes.forEach((m, i) => {
  errorBarData.push({ x: m, y: fracLow[i] });
  errorBarData.push({ x: m, y: fracHigh[i] });
  errorBarData.push({ x: m, y: null });
});

const panelADatasets = [
  {
    data: fracModes.map((x, i) => ({ x, y: fracMean[i] })),
    showLine: false,
    pointStyle: "crossRot",
    pointRadius: 3.5,
    pointBorderColor: BLUE_A,
    pointBorderWidth: 1,
    borderColor: BLUE_A,
    clip: false,
  },
  {
    data: errorBarData,
    borderColor: BLUE_A,
    borderWidth: 1,
    spanGaps: false,
    pointStyle: "line",
    pointRadius: 2.2,
    pointBorderColor: BLUE_A,
    pointBorderWidth: 1,
    clip: false,
  },
  {
    data: fracModes.map((x, i) => ({ x, y: fracUpper[i] })),
    borderColor: RED_A,
    borderWidth: 1,
    borderDash: [5, 3],
    tension: 0.25,
    pointStyle: "cross",
    pointRadius: 3.5,
    pointBorderColor: RED_A,
    pointBorderWidth: 1,
    clip: false,
  },
  {
    data: fracModes.map((x, i) => ({ x, y: fracLower[i] })),
    borderColor: RED_A,
    borderWidth: 1,
    borderDash: [5, 3],
    tension: 0.2,
    pointStyle: "cross",
    pointRadius: 3.5,
    pointBorderColor: RED_A,
    pointBorderWidth: 1,
    clip: false,
  },
];

const panelBDatasets = [
  {
    data: cumModes.map((x, i) => ({ x, y: cumVar[i] })),
    showLine: false,
    pointStyle: "crossRot",
    pointRadius: 3.7,
    pointBorderColor: "rgb(80,80,225)",
    pointBorderWidth: 1,
    borderColor: "rgb(80,80,225)",
    clip: false,
  },
];

type PanelSpec = {
  key: string;
  title: string;
  left: number;
  top: number;
  right: number;
  bottom: number;
  xMin: number;
  xMax: number;
  xTicks: number[];
  yMin: number;
  yMax: number;
  yTicks: number[];
  xTitle?: string;
  xH: number;
  tickSize: number;
  yPad: number;
  datasets: any[];
};

const PANELS: PanelSpec[] = [
  {
    key: "a", title: "Fraction of variance (%) M=20",
    left: 45, top: 48, right: 279, bottom: 222,
    xMin: 0, xMax: 11, xTicks: aXTicks, yMin: 0, yMax: 10, yTicks: aYTicks,
    xTitle: "M-SSA mode", xH: 41, tickSize: 18, yPad: 3, datasets: panelADatasets,
  },
  {
    key: "b", title: "Cumulative variance (%) M=20",
    left: 344, top: 48, right: 577, bottom: 222,
    xMin: 0, xMax: 20, xTicks: bXTicks, yMin: 0, yMax: 60, yTicks: bYTicks,
    xTitle: "M-SSA mode", xH: 41, tickSize: 18, yPad: 5, datasets: panelBDatasets,
  },
  {
    key: "rc1", title: "Rc1", left: 47, top: 333, right: 273, bottom: 468,
    xMin: 1800, xMax: 2200, xTicks: rcXTicks, yMin: -2, yMax: 1, yTicks: rc1YTicks,
    xH: 30, tickSize: 17, yPad: 7,
    datasets: rcDatasets(years5, rcSeries(rc1Blue, rc1Green, rc1Red, rc1Cyan, rc1Magenta, rc1Yellow, rc1Black), 0.35),
  },
  {
    key: "rc2", title: "Rc2", left: 354, top: 333, right: 580, bottom: 468,
    xMin: 1800, xMax: 2200, xTicks: rcXTicks, yMin: -1, yMax: 1, yTicks: rc2YTicks,
    xH: 30, tickSize: 17, yPad: 7,
    datasets: rcDatasets(years5, rcSeries(rc2Blue, rc2Green, rc2Red, rc2Cyan, rc2Magenta, rc2Yellow, rc2Black), 0.35),
  },
  {
    key: "rc3", title: "Rc3", left: 47, top: 534, right: 273, bottom: 668,
    xMin: 1800, xMax: 2200, xTicks: rcXTicks, yMin: -1, yMax: 1, yTicks: rc3YTicks,
    xH: 30, tickSize: 17, yPad: 7,
    datasets: rcDatasets(years5, rcSeries(rc3Blue, rc3Green, rc3Red, rc3Cyan, rc3Magenta, rc3Yellow, rc3Black), 0.35),
  },
  {
    key: "rc4", title: "Rc4", left: 354, top: 534, right: 580, bottom: 668,
    xMin: 1800, xMax: 2200, xTicks: rcXTicks, yMin: -0.5, yMax: 1, yTicks: rc4YTicks,
    xH: 30, tickSize: 17, yPad: 7,
    datasets: rcDatasets(years4, rcSeries(rc4Blue, rc4Green, rc4Red, rc4Cyan, rc4Magenta, rc4Yellow, rc4Black), 0.2),
  },
  {
    key: "rc5", title: "Rc5", left: 47, top: 735, right: 273, bottom: 869,
    xMin: 1800, xMax: 2200, xTicks: rcXTicks, yMin: -1, yMax: 0.5, yTicks: rc5YTicks,
    xH: 30, tickSize: 17, yPad: 7,
    datasets: rcDatasets(years4, rcSeries(rc5Blue, rc5Green, rc5Red, rc5Cyan, rc5Magenta, rc5Yellow, rc5Black), 0.2),
  },
  {
    key: "rc6", title: "Rc6", left: 354, top: 735, right: 580, bottom: 869,
    xMin: 1800, xMax: 2200, xTicks: rcXTicks, yMin: -1, yMax: 1, yTicks: rc6YTicks,
    xH: 30, tickSize: 17, yPad: 7,
    datasets: rcDatasets(years4, rcSeries(rc6Blue, rc6Green, rc6Red, rc6Cyan, rc6Magenta, rc6Yellow, null), 0),
  },
  {
    key: "rc7", title: "Rc7", left: 47, top: 936, right: 273, bottom: 1070,
    xMin: 1800, xMax: 2200, xTicks: rcXTicks, yMin: -0.5, yMax: 0.5, yTicks: rc7YTicks,
    xH: 30, tickSize: 17, yPad: 7,
    datasets: rcDatasets(years4, rcSeries(rc7Blue, rc7Green, rc7Red, rc7Cyan, rc7Magenta, rc7Yellow, rc7Black), 0),
  },
];

const boxPlugin = {
  id: "matlabBox",
  afterDraw(chart: any) {
    const { ctx, chartArea: a } = chart;
    ctx.save();
    ctx.strokeStyle = "#262626";
    ctx.lineWidth = 1;
    const l = Math.round(a.left) + 0.5;
    const t = Math.round(a.top) + 0.5;
    const r = Math.round(a.right) - 0.5;
    const b = Math.round(a.bottom) - 0.5;
    ctx.strokeRect(l, t, r - l, b - t);
    ctx.restore();
  },
};

function buildOptions(spec: PanelSpec): any {
  const tickFont = { family: FONT, size: spec.tickSize, lineHeight: 1.2 };
  const grid = {
    color: "rgba(0,0,0,0.7)",
    lineWidth: 1,
    drawTicks: false,
  };
  const fmt = (v: any) => String(Number(v));
  return {
    responsive: false,
    animation: false,
    devicePixelRatio: 1,
    events: [],
    layout: { padding: { left: 0, right: PAD_R, top: 0, bottom: 0 } },
    plugins: {
      legend: { display: false },
      tooltip: { enabled: false },
      title: {
        display: true,
        text: spec.title,
        fullSize: false,
        color: "#000",
        font: { family: FONT, size: 17, weight: "normal", lineHeight: "20px" },
        padding: { top: 0, bottom: TITLE_H - 20 },
      },
    },
    scales: {
      x: {
        type: "linear",
        min: spec.xMin,
        max: spec.xMax,
        afterBuildTicks: (s: any) => {
          s.ticks = spec.xTicks.map((v) => ({ value: v }));
        },
        afterFit: (s: any) => {
          s.height = spec.xH;
          s.paddingLeft = 0;
          s.paddingRight = 0;
        },
        ticks: {
          color: "#000",
          font: tickFont,
          padding: 3,
          maxRotation: 0,
          autoSkip: false,
          callback: fmt,
        },
        grid,
        border: { display: false, dash: [1, 2] },
        title: spec.xTitle
          ? {
              display: true,
              text: spec.xTitle,
              color: "#000",
              font: { family: FONT, size: 17, lineHeight: "20px" },
              padding: { top: 0, bottom: 0 },
            }
          : { display: false },
      },
      y: {
        type: "linear",
        min: spec.yMin,
        max: spec.yMax,
        afterBuildTicks: (s: any) => {
          s.ticks = spec.yTicks.map((v) => ({ value: v }));
        },
        afterFit: (s: any) => {
          s.width = Y_W;
          s.paddingTop = 0;
          s.paddingBottom = 0;
        },
        ticks: {
          color: "#000",
          font: tickFont,
          padding: spec.yPad,
          autoSkip: false,
          callback: fmt,
        },
        grid,
        border: { display: false, dash: [1, 2] },
      },
    },
  };
}

function ChartPanel({ spec }: { spec: PanelSpec }) {
  const ref = useRef<HTMLCanvasElement | null>(null);
  const w = spec.right - spec.left + Y_W + PAD_R;
  const h = spec.bottom - spec.top + TITLE_H + spec.xH;
  useEffect(() => {
    if (!ref.current) return;
    const chart = new Chart(ref.current, {
      type: "line",
      data: { datasets: spec.datasets },
      options: buildOptions(spec),
      plugins: [boxPlugin],
    } as any);
    return () => chart.destroy();
  }, []);
  return (
    <canvas
      ref={ref}
      width={w}
      height={h}
      style={{ position: "absolute", left: spec.left - Y_W, top: spec.top - TITLE_H, width: w, height: h }}
    />
  );
}

const labelStyle: React.CSSProperties = {
  position: "absolute",
  fontFamily: FONT,
  color: "#000",
  whiteSpace: "nowrap",
};

export default function App() {
  useEffect(() => {
    document.body.style.margin = "0";
    document.body.style.background = "#fff";
  }, []);
  return (
    <div style={{ position: "relative", width: 600, height: 1091, background: "#fff", overflow: "hidden" }}>
      {PANELS.map((p) => (
        <ChartPanel key={p.key} spec={p} />
      ))}
      <div style={{ ...labelStyle, left: 2, top: -5, fontSize: 20, lineHeight: "20px", fontWeight: "bold" }}>a</div>
      <div style={{ ...labelStyle, left: 2, top: 288, fontSize: 20, lineHeight: "20px", fontWeight: "bold" }}>b</div>
      <div style={{ ...labelStyle, left: 10, top: 19, fontSize: 17, lineHeight: "20px" }}>(a)</div>
      <div style={{ ...labelStyle, left: 307, top: 19, fontSize: 17, lineHeight: "20px" }}>(b)</div>
    </div>
  );
}
